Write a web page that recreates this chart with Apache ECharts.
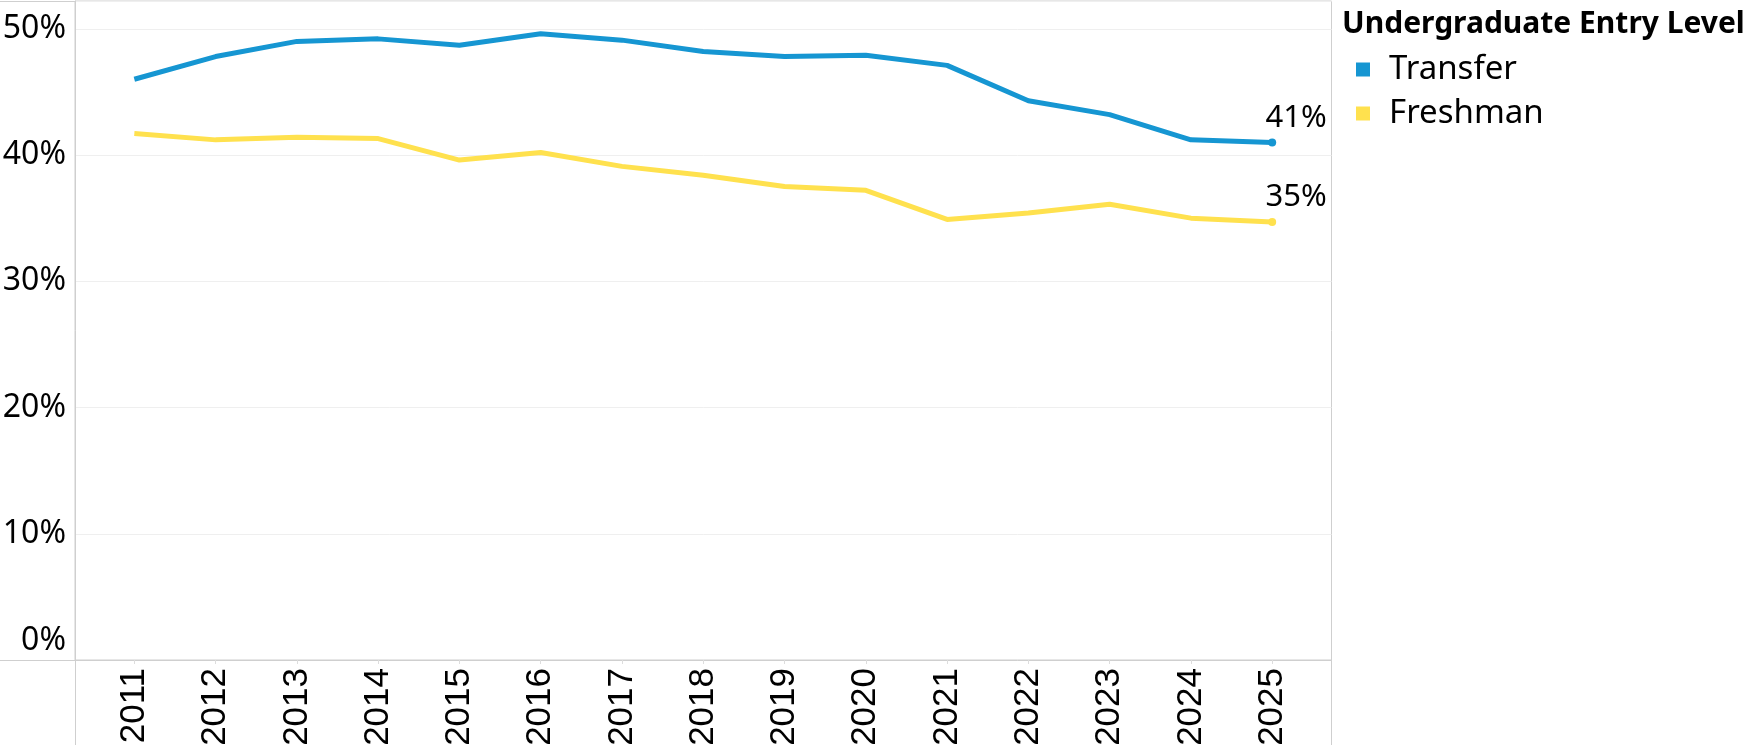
<!DOCTYPE html>
<html>
<head>
<meta charset="utf-8">
<title>Undergraduate Entry Level</title>
<script src="https://cdn.jsdelivr.net/npm/echarts@6/dist/echarts.min.js"></script>
<style>
    html, body { margin: 0; padding: 0; background: #fff; }
    #chart { width: 1753px; height: 745px; }
</style>
</head>
<body>
<div id="chart"></div>
<script>
// data
var years = [2011, 2012, 2013, 2014, 2015, 2016, 2017, 2018, 2019, 2020, 2021, 2022, 2023, 2024, 2025];
var transfer = [46.0, 47.8, 49.0, 49.2, 48.7, 49.6, 49.1, 48.2, 47.8, 47.9, 47.1, 44.3, 43.2, 41.2, 41.0];
var freshman = [41.7, 41.2, 41.4, 41.3, 39.6, 40.2, 39.1, 38.4, 37.5, 37.2, 34.9, 35.4, 36.1, 35.0, 34.7];
var seriesNames = ['Transfer', 'Freshman'];
var yTicks = [0, 10, 20, 30, 40, 50];

var blue = '#1696d2',
    yellow = '#ffe14e',
    lineGray = '#cfcfcf';

// turn a value list into [year, value] points, last one gets a dot and a label
function toPoints(values) {
    return values.map(function (v, i) {
        var p = { value: [years[i], v] };
        if (i === values.length - 1) {
            p.symbol = 'circle';
            p.symbolSize = 8;
            p.label = { show: true };
        }
        return p;
    });
}

function makeSeries(name, values, color) {
    return {
        name: name,
        type: 'line',
        data: toPoints(values),
        symbol: 'none',
        showSymbol: true,
        lineStyle: { width: 5, color: color },
        itemStyle: { color: color },
        label: {
            show: false,
            position: 'top',
            distance: 5,
            offset: [24, 0],
            fontFamily: 'Noto Sans',
            fontSize: 31,
            color: '#000',
            formatter: function (p) { return Math.round(p.value[1]) + '%'; }
        },
        animation: false
    };
}

var chart = echarts.init(document.getElementById('chart'));

var option = {
    backgroundColor: '#fff',
    animation: false,
    title: {
        text: 'Undergraduate Entry Level',
        left: 1337,
        top: 4,
        textStyle: { fontFamily: 'Noto Sans', fontWeight: 'bold', fontSize: 30, color: '#000' }
    },
    legend: {
        data: seriesNames,
        orient: 'vertical',
        left: 1356,
        top: 53,
        padding: 0,
        icon: 'rect',
        itemWidth: 14,
        itemHeight: 14,
        itemGap: 11,
        textStyle: { fontFamily: 'Noto Sans', fontSize: 33, color: '#000', padding: [0, 0, 0, 14] }
    },
    grid: {
        left: 75,
        right: 421.5,
        top: 1,
        bottom: 85,
        show: true,
        borderColor: lineGray,
        borderWidth: 1,
        outerBoundsMode: 'none'
    },
    xAxis: {
        type: 'value',
        min: 2010.27,
        max: 2025.73,
        axisLine: { show: true, lineStyle: { color: lineGray } },
        splitLine: { show: false },
        axisTick: {
            show: true,
            customValues: years,
            length: 4,
            lineStyle: { color: '#dddddd' }
        },
        axisLabel: {
            customValues: years,
            rotate: 90,
            margin: 8,
            fontFamily: 'Liberation Sans',
            fontSize: 35,
            color: '#000',
            formatter: function (v) { return String(v); }
        }
    },
    yAxis: {
        type: 'value',
        min: 0,
        max: 52.2,
        interval: 10,
        axisLine: { show: true, lineStyle: { color: lineGray } },
        axisTick: { show: false },
        splitLine: { show: true, lineStyle: { color: '#efefef' } },
        axisLabel: {
            customValues: yTicks,
            margin: 9,
            fontFamily: 'Noto Sans',
            fontSize: 32,
            color: '#000',
            showMaxLabel: true,
            verticalAlignMinLabel: 'bottom',
            lineHeight: 38,
            padding: [5, 0, 0, 0],
            formatter: '{value}%'
        }
    },
    series: [
        makeSeries(seriesNames[0], transfer, blue),
        makeSeries(seriesNames[1], freshman, yellow)
    ],
    // pane lines that run past the plot like in the original
    graphic: [
        { type: 'line', shape: { x1: 0, y1: 1.5, x2: 75, y2: 1.5 }, style: { stroke: lineGray, lineWidth: 1 } },
        { type: 'line', shape: { x1: 0, y1: 660.5, x2: 75, y2: 660.5 }, style: { stroke: lineGray, lineWidth: 1 } },
        { type: 'line', shape: { x1: 75.5, y1: 660, x2: 75.5, y2: 745 }, style: { stroke: lineGray, lineWidth: 1 } },
        { type: 'line', shape: { x1: 1331.5, y1: 660, x2: 1331.5, y2: 745 }, style: { stroke: lineGray, lineWidth: 1 } }
    ]
};

chart.setOption(option);
</script>
</body>
</html>
